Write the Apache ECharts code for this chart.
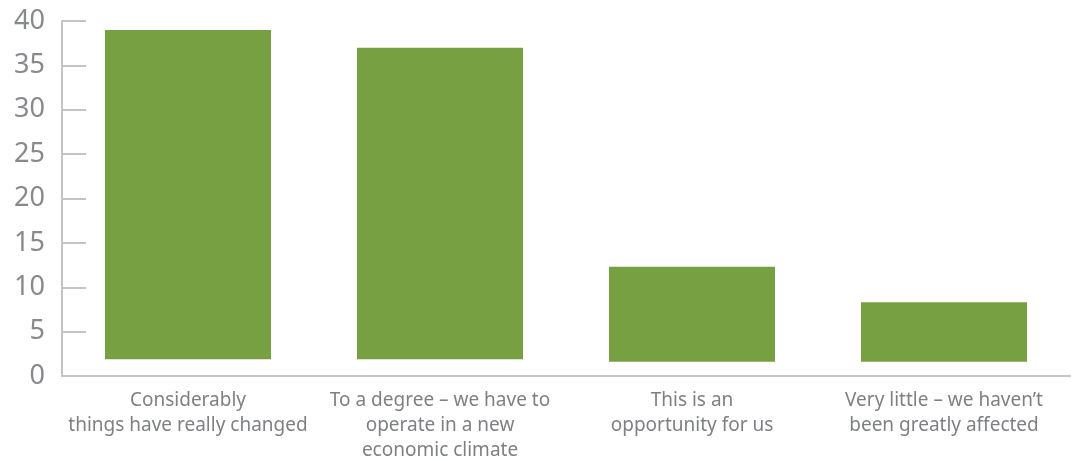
<!DOCTYPE html>
<html>
<head>
<meta charset="utf-8">
<script src="https://cdn.jsdelivr.net/npm/echarts@6/dist/echarts.min.js"></script>
<style>
html,body{margin:0;padding:0;background:#fff;}
#chart{width:1073px;height:461px;}
</style>
</head>
<body>
<div id="chart"></div>
<script>
const categories = [
  "Considerably\nthings have really changed",
  "To a degree – we have to\noperate in a new\neconomic climate",
  "This is an\nopportunity for us",
  "Very little – we haven’t\nbeen greatly affected"
];
const barTops = [39, 37, 12.3, 8.3];
const barBases = [1.9, 1.9, 1.6, 1.6];
const yTicks = [0, 5, 10, 15, 20, 25, 30, 35, 40];

const visible = barTops.map((v, i) => +(v - barBases[i]).toFixed(2));

const chart = echarts.init(document.getElementById('chart'));
chart.setOption({
  animation: false,
  grid: { left: 62, right: 3, top: 21, bottom: 85, containLabel: false, outerBoundsMode: 'none' },
  xAxis: {
    type: 'category',
    data: categories,
    boundaryGap: true,
    axisLine: { lineStyle: { color: '#c4c4c8', width: 2 } },
    axisTick: { inside: true, length: 8, lineStyle: { color: '#c4c4c8', width: 2 } },
    axisLabel: {
      interval: 0,
      margin: 12,
      color: '#7f8084',
      fontFamily: 'Noto Sans',
      fontSize: 19,
      lineHeight: 25
    }
  },
  yAxis: {
    type: 'value',
    min: yTicks[0],
    max: yTicks[yTicks.length - 1],
    interval: 5,
    splitLine: { show: false },
    axisLine: { show: true, lineStyle: { color: '#c4c4c8', width: 2 } },
    axisTick: { show: true, inside: true, length: 24, lineStyle: { color: '#c4c4c8', width: 2 } },
    axisLabel: {
      margin: 17,
      color: '#88898d',
      fontFamily: 'Noto Sans',
      fontSize: 27
    }
  },
  series: [
    {
      type: 'bar',
      stack: 's',
      data: barBases,
      barWidth: 166,
      itemStyle: { color: 'transparent' },
      silent: true
    },
    {
      type: 'bar',
      stack: 's',
      data: visible,
      barWidth: 166,
      itemStyle: { color: '#77a042' }
    }
  ]
});
</script>
</body>
</html>
